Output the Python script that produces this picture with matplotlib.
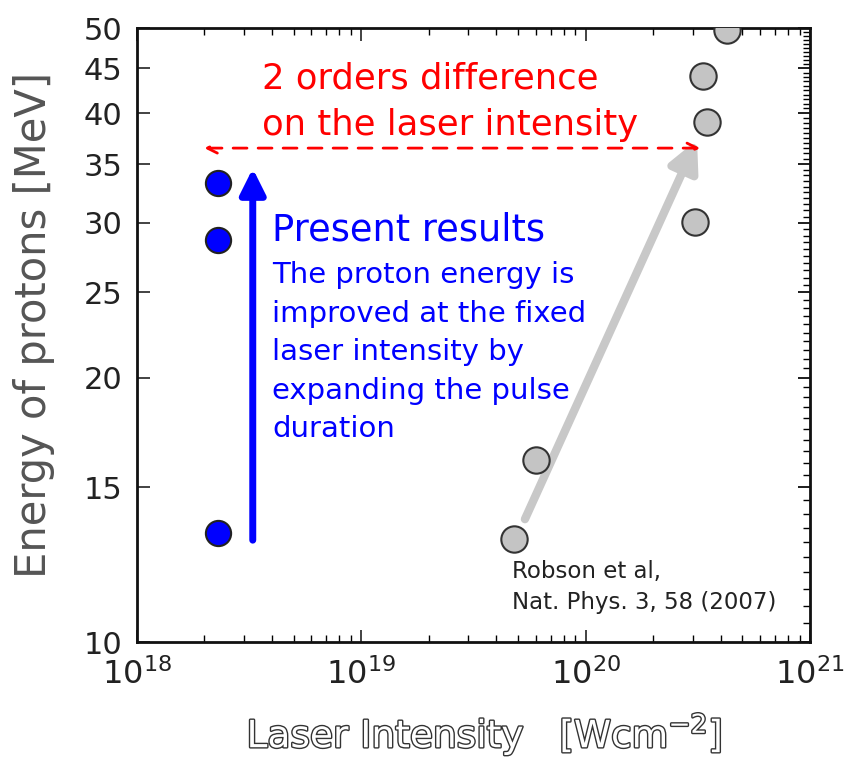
import matplotlib
matplotlib.use("Agg")
import matplotlib.pyplot as plt
import matplotlib.ticker as mticker
import matplotlib.patheffects as pe
import numpy as np

# present results (blue) and Robson et al. 2007 (grey)
present_intensity = [2.3e18, 2.3e18, 2.3e18]
present_energy = [33.3, 28.7, 13.3]
robson_intensity = [4.8e19, 6.0e19, 3.07e20, 3.34e20, 3.48e20, 4.27e20]
robson_energy = [13.1, 16.1, 30.1, 44.1, 39.1, 49.7]

y_ticks = [10, 15, 20, 25, 30, 35, 40, 45, 50]

fig = plt.figure(figsize=(8.49, 7.58), dpi=100)
ax = fig.add_axes([0.161, 0.153, 0.793, 0.810])

ax.set_xscale("log")
ax.set_yscale("log")
ax.set_xlim(1e18, 1e21)
ax.set_ylim(10, 50)

ax.scatter(present_intensity, present_energy, s=330, c="#0000ff",
           edgecolors="#222222", linewidths=1.5, zorder=4, clip_on=False)
ax.scatter(robson_intensity, robson_energy, s=360, c="#c4c4c4",
           edgecolors="#333333", linewidths=1.5, zorder=4)

# arrows
ax.annotate("", xy=(3.14e20, 37.3), xytext=(5.37e19, 13.8),
            arrowprops=dict(arrowstyle="-|>", color="#c8c8c8", lw=6,
                            mutation_scale=45, shrinkA=0, shrinkB=0), zorder=2)
ax.annotate("", xy=(3.29e18, 34.6), xytext=(3.29e18, 13.06),
            arrowprops=dict(arrowstyle="-|>", color="#0000ff", lw=5,
                            mutation_scale=38, shrinkA=0, shrinkB=0), zorder=3)
ax.annotate("", xy=(2.0e18, 36.5), xytext=(3.24e20, 36.5),
            arrowprops=dict(arrowstyle="<->", color="red", lw=2, ls=(0, (5, 4)),
                            mutation_scale=18, shrinkA=0, shrinkB=0), zorder=3)

ax.text(0.186, 0.880, "2 orders difference\non the laser intensity",
        transform=ax.transAxes, color="red", fontsize=25.5, ha="left",
        va="center", linespacing=1.45)
ax.text(0.201, 0.671, "Present results", transform=ax.transAxes,
        color="#0000ff", fontsize=26.5, ha="left", va="center")
ax.text(0.201, 0.472, "The proton energy is\nimproved at the fixed\n"
        "laser intensity by\nexpanding the pulse\nduration",
        transform=ax.transAxes, color="#0000ff", fontsize=21, ha="left",
        va="center", linespacing=1.48)
ax.text(0.557, 0.0896, "Robson et al,\nNat. Phys. 3, 58 (2007)",
        transform=ax.transAxes, color="#222222", fontsize=16.5, ha="left",
        va="center", linespacing=1.4)

# ticks
ax.yaxis.set_major_locator(mticker.FixedLocator(y_ticks))
ax.yaxis.set_major_formatter(mticker.FixedFormatter([str(v) for v in y_ticks]))
ax.yaxis.set_minor_locator(mticker.NullLocator())
ax.xaxis.set_major_locator(mticker.LogLocator(base=10))
ax.xaxis.set_minor_locator(mticker.LogLocator(base=10, subs=np.arange(2, 10)))
ax.tick_params(axis="both", which="both", direction="in", top=True, right=True)
ax.tick_params(axis="both", which="major", length=9, width=1.2, colors="#222222")
ax.tick_params(axis="both", which="minor", length=5, width=1.0)
ax.tick_params(axis="y", labelsize=22, pad=10)
ax.tick_params(axis="x", labelsize=23, pad=12)

# dense ticks along the right side
sec = ax.secondary_yaxis("right")
sec.yaxis.set_major_locator(mticker.FixedLocator(y_ticks))
sec.yaxis.set_minor_locator(mticker.FixedLocator(np.arange(10, 50, 0.5)))
sec.yaxis.set_major_formatter(mticker.NullFormatter())
sec.yaxis.set_minor_formatter(mticker.NullFormatter())
sec.tick_params(which="major", direction="in", length=9, width=1.2)
sec.tick_params(which="minor", direction="in", length=5, width=1.0)

for s in ax.spines.values():
    s.set_linewidth(2)
    s.set_color("#111111")

outline = [pe.withStroke(linewidth=2, foreground="#333333")]
ax.set_xlabel("Laser Intensity   [Wcm$^{-2}$]", fontsize=27, color="white",
              path_effects=outline)
ax.xaxis.set_label_coords(0.516, -0.112)
ax.set_ylabel("Energy of protons [MeV]", fontsize=30, color="#555555")
ax.yaxis.set_label_coords(-0.122, 0.516)

fig.savefig("out.png", dpi=100)
